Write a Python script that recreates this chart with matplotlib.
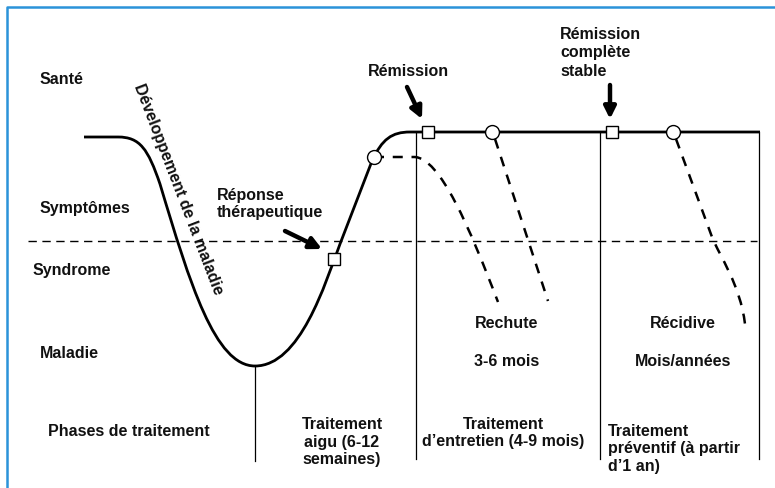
import numpy as np
import matplotlib.pyplot as plt
from matplotlib.path import Path
from matplotlib.patches import PathPatch

# ================= data (pixel space of the schema) =================
# main disease / treatment course, as bezier anchor + control points
# M = move, L = line, C = cubic (2 controls + end)
course_pts = [(84, 138), (118, 138),
              (140, 138), (148, 150), (160, 185),
              (190, 285), (215, 367), (255, 367),
              (300, 367), (325, 285), (340, 245),
              (372, 162),
              (382, 140), (392, 133), (410, 133),
              (760, 133)]
course_ops = ['M', 'L', 'C', 'C', 'C', 'C', 'C', 'C', 'C', 'C', 'C', 'L',
              'C', 'C', 'C', 'L']

# relapse / recurrence branches (dashed)
relapse1_pts = [(374, 158), (414, 158), (440, 158), (470, 230), (498, 303)]
relapse1_ops = ['M', 'L', 'C', 'C', 'C']
relapse2_pts = [(495, 140), (548, 302)]
relapse2_ops = ['M', 'L']
recur_pts = [(676, 140), (712, 238), (720, 258), (740, 285), (745, 325)]
recur_ops = ['M', 'L', 'C', 'C', 'C']

# markers
square_x = [334, 428, 612]
square_y = [260, 133, 133]
circle_x = [374, 492, 673]
circle_y = [158, 133, 133]

# threshold line and phase separators
threshold_y = 242
threshold_span = [28, 757]
sep_x = [255, 416, 600, 759]
sep_top = [367, 133, 133, 133]
sep_bottom = [462, 460, 460, 460]

# arrows (tail -> head)
arrows = [((285, 232), (322, 250)),
          ((407, 88), (422, 120)),
          ((610, 86), (610, 120))]

# left state labels
state_labels = ['Santé', 'Symptômes', 'Syndrome', 'Maladie', 'Phases de traitement']
state_x = [40, 40, 33, 40, 48]
state_y = [80, 208, 270, 354, 431]

BORDER = '#2b93d9'
FONT = 'Liberation Sans'
FS = 11.5

OPS = {'M': Path.MOVETO, 'L': Path.LINETO, 'C': Path.CURVE4}


def make_path(pts, ops):
    return Path(pts, [OPS[o] for o in ops])


# ================= figure =================
fig = plt.figure(figsize=(7.75, 4.89), dpi=100)
ax = fig.add_axes([0, 0, 1, 1])
ax.set_xlim(0, 775)
ax.set_ylim(489, 0)
ax.axis('off')

# blue frame (top + left)
ax.plot([7, 7, 775], [489, 8, 8], color=BORDER, lw=1.8, solid_capstyle='butt')

# threshold dashed line
ax.plot(threshold_span, [threshold_y, threshold_y], color='black', lw=1.0,
        dashes=(6, 4))

# phase separators
for x, y0, y1 in zip(sep_x, sep_top, sep_bottom):
    ax.plot([x, x], [y0, y1], color='black', lw=0.9)

# course curve
ax.add_patch(PathPatch(make_path(course_pts, course_ops), fill=False,
                       edgecolor='black', lw=2.0, joinstyle='round'))

# dashed branches
for pts, ops in [(relapse1_pts, relapse1_ops), (relapse2_pts, relapse2_ops),
                 (recur_pts, recur_ops)]:
    ax.add_patch(PathPatch(make_path(pts, ops), fill=False, edgecolor='black',
                           lw=1.8, linestyle=(0, (4, 3.5))))

# markers
ax.plot(square_x, square_y, 's', ms=9, mfc='white', mec='black', mew=1.0, zorder=5)
ax.plot(circle_x, circle_y, 'o', ms=10, mfc='white', mec='black', mew=1.0, zorder=5)

# arrows
for tail, head in arrows:
    ax.annotate('', xy=head, xytext=tail,
                arrowprops=dict(arrowstyle='-|>,head_length=0.7,head_width=0.35',
                                lw=3.2, color='black', shrinkA=0, shrinkB=0))

# ================= texts =================
txt = dict(fontfamily=FONT, fontsize=FS, fontweight='bold', color='#111111')

for s, x, y in zip(state_labels, state_x, state_y):
    ax.text(x, y, s, ha='left', va='center', **txt)

ax.text(178, 189, 'Développement de la maladie', rotation=-69,
        rotation_mode='anchor', ha='center', va='center', **txt)

ax.text(217, 204, 'Réponse\nthérapeutique', ha='left', va='center',
        linespacing=1.1, **txt)
ax.text(408, 72, 'Rémission', ha='center', va='center', **txt)
ax.text(560, 53, 'Rémission\ncomplète\nstable', ha='left', va='center',
        linespacing=1.3, **txt)

ax.text(507, 323, 'Rechute', ha='center', va='center', **txt)
ax.text(507, 362, '3-6 mois', ha='center', va='center', **txt)
ax.text(683, 323, 'Récidive', ha='center', va='center', **txt)
ax.text(683, 362, 'Mois/années', ha='center', va='center', **txt)

ax.text(342, 442, 'Traitement\naigu (6-12\nsemaines)', ha='center', va='center',
        multialignment='center', linespacing=1.2, **txt)
ax.text(503, 433, 'Traitement\nd’entretien (4-9 mois)', ha='center', va='center',
        multialignment='center', linespacing=1.2, **txt)
ax.text(608, 449, 'Traitement\npréventif (à partir\nd’1 an)', ha='left', va='center',
        multialignment='left', linespacing=1.2, **txt)

fig.savefig('out.png', dpi=100)
